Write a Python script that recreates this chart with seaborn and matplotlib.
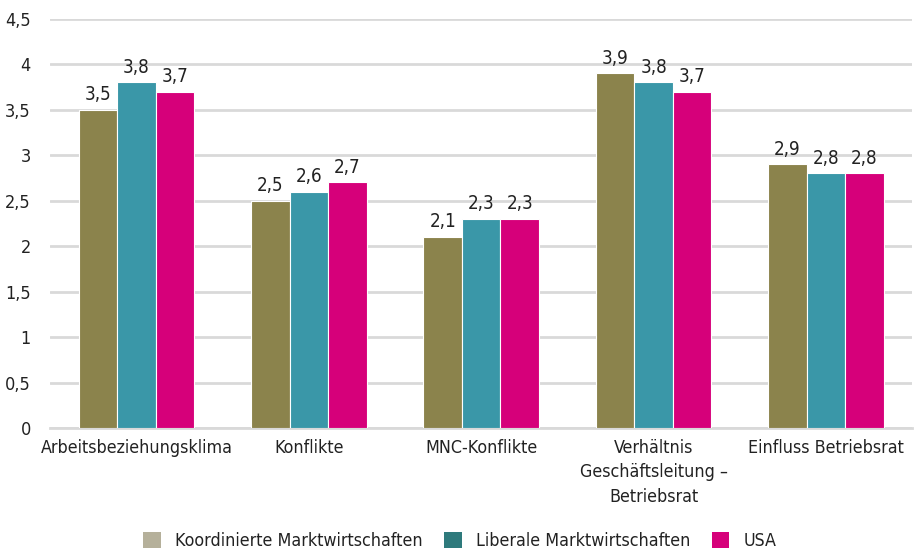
import pandas as pd
import matplotlib.pyplot as plt
import seaborn as sns
from matplotlib.patches import Patch

# Data
categories = ['Arbeitsbeziehungsklima', 'Konflikte', 'MNC-Konflikte',
              'Verhältnis\nGeschäftsleitung –\nBetriebsrat', 'Einfluss Betriebsrat']
series = ['Koordinierte Marktwirtschaften', 'Liberale Marktwirtschaften', 'USA']
koordinierte = [3.5, 2.5, 2.1, 3.9, 2.9]
liberale = [3.8, 2.6, 2.3, 3.8, 2.8]
usa = [3.7, 2.7, 2.3, 3.7, 2.8]
y_ticks = [0, 0.5, 1, 1.5, 2, 2.5, 3, 3.5, 4, 4.5]

bar_colors = ['#8b834c', '#3a97a8', '#d6007a']
legend_colors = ['#b5b09a', '#2e7a7c', '#d6007a']

df = pd.DataFrame({
    'Kategorie': categories * 3,
    'Gruppe': [series[0]] * 5 + [series[1]] * 5 + [series[2]] * 5,
    'Wert': koordinierte + liberale + usa,
})

sns.set_style('white')
plt.rcParams['font.family'] = ['DejaVu Sans']
plt.rcParams['font.stretch'] = 'condensed'

fig = plt.figure(figsize=(9.14, 5.53), dpi=100)
ax = fig.add_axes([0.055, 0.226, 0.943, 0.74])

sns.barplot(data=df, x='Kategorie', y='Wert', hue='Gruppe', palette=bar_colors, saturation=1,
            width=0.67, edgecolor='white', linewidth=0.8, legend=False, ax=ax, zorder=3)

for container in ax.containers:
    ax.bar_label(container, labels=[f'{v:.1f}'.replace('.', ',') for v in container.datavalues],
                 padding=4, fontsize=13.5, color='#222222')

ax.set_ylim(0, 4.5)
ax.set_xlim(-0.5, 4.5)
ax.set_yticks(y_ticks)
ax.set_yticklabels([str(t).replace('.', ',').replace(',0', '') for t in y_ticks], fontsize=13)
ax.tick_params(axis='x', labelsize=12.8, length=0, pad=8, labelcolor='#222222')
ax.tick_params(axis='y', length=0, pad=14, labelcolor='#222222')
for lbl in ax.get_xticklabels():
    lbl.set_linespacing(1.45)
ax.yaxis.grid(True, color='#d9d9d9', linewidth=2, zorder=0)
ax.set_axisbelow(True)
ax.set_xlabel('')
ax.set_ylabel('')
for side in ['top', 'right', 'left']:
    ax.spines[side].set_visible(False)
ax.spines['bottom'].set_color('#d9d9d9')
ax.spines['bottom'].set_linewidth(2)

handles = [Patch(facecolor=c, edgecolor='none') for c in legend_colors]
fig.legend(handles, series, loc='center', bbox_to_anchor=(0.503, 0.022), ncol=3,
           frameon=False, fontsize=12.8, handlelength=1.0, handleheight=1.0,
           columnspacing=1.2, handletextpad=0.8, labelcolor='#222222')

plt.savefig('out.png', dpi=100)
